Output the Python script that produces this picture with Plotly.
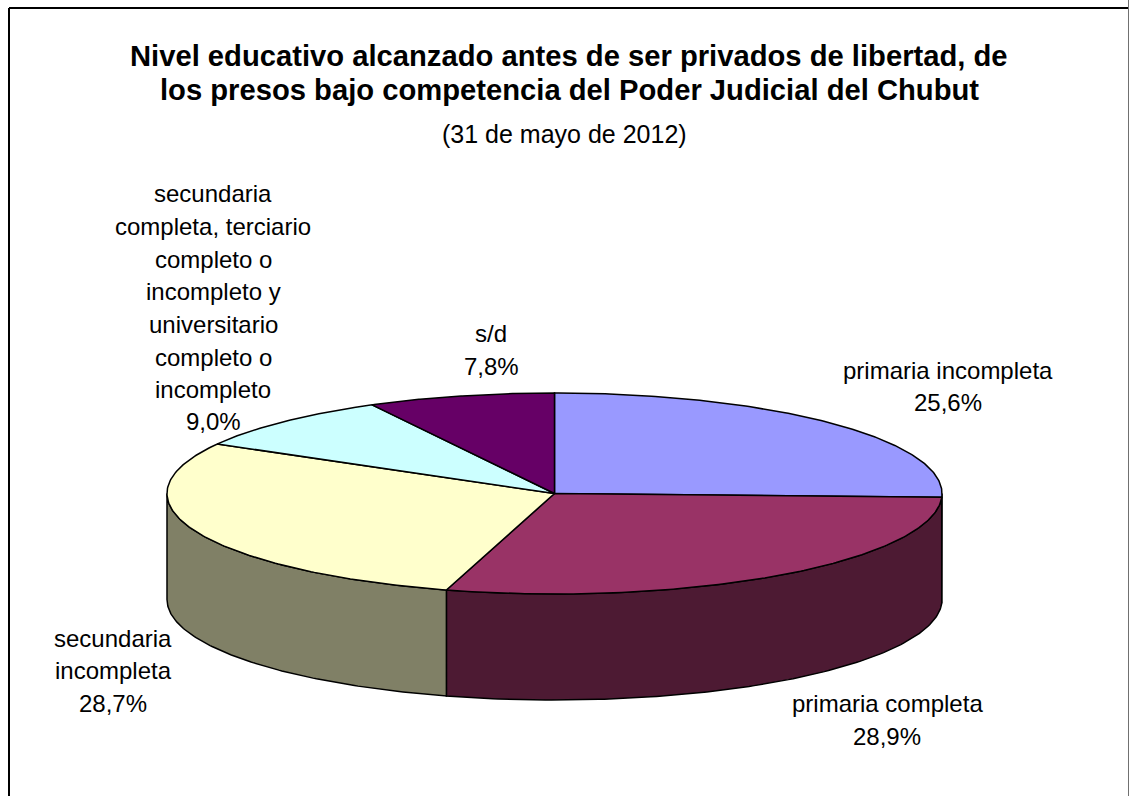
import numpy as np
import plotly.graph_objects as go

categories = ["primaria incompleta", "primaria completa", "secundaria incompleta",
              "secundaria completa, terciario completo o incompleto y universitario completo o incompleto", "s/d"]
values = [25.6, 28.9, 28.7, 9.0, 7.8]
top_colors = ["#9999FF", "#993366", "#FFFFCC", "#CCFFFF", "#660066"]
side_colors = ["#4D4D80", "#4D1A33", "#808066", "#668080", "#330033"]

title_lines = ["Nivel educativo alcanzado antes de ser privados de libertad, de",
               "los presos bajo competencia del Poder Judicial del Chubut"]
title_y = [56, 90]
subtitle = "(31 de mayo de 2012)"

label_lines = [
    ["primaria incompleta", "25,6%"],
    ["primaria completa", "28,9%"],
    ["secundaria", "incompleta", "28,7%"],
    ["secundaria", "completa, terciario", "completo o", "incompleto y", "universitario", "completo o", "incompleto", "9,0%"],
    ["s/d", "7,8%"],
]
label_x = [948, 887, 113, 213, 491]
label_y = [
    [370, 402],
    [703, 736],
    [638, 670, 703],
    [193, 226, 259, 291, 324, 357, 389, 421],
    [333, 366],
]

CX, CY, RX, RY, DEPTH = 554.5, 493.5, 387.5, 100.5, 106.0
W, H = 1129, 796
FRAME_L, FRAME_T = 9, 8
FONT = "Liberation Sans, Arial, sans-serif"
LINE = "#000000"


def point(frac):
    t = 2 * np.pi * frac
    return CX + RX * np.sin(t), CY - RY * np.cos(t)


fig = go.Figure()
fracs = np.cumsum([0] + values) / sum(values)

# Sides: only the part of each slice on the front half of the ellipse (t in 0.25..0.75)
for i in range(len(values)):
    lo, hi = max(fracs[i], 0.25), min(fracs[i + 1], 0.75)
    if lo >= hi:
        continue
    f = np.linspace(lo, hi, 120)
    x, y = point(f)
    xs = np.r_[x, x[::-1], x[0]]
    ys = np.r_[y, (y + DEPTH)[::-1], y[0]]
    fig.add_trace(go.Scatter(x=xs, y=ys, mode="lines", fill="toself", fillcolor=side_colors[i],
                             line=dict(color=LINE, width=1.5), hoverinfo="skip", showlegend=False))

# Top faces
for i in range(len(values)):
    f = np.linspace(fracs[i], fracs[i + 1], 160)
    x, y = point(f)
    xs = np.r_[CX, x, CX]
    ys = np.r_[CY, y, CY]
    fig.add_trace(go.Scatter(x=xs, y=ys, mode="lines", fill="toself", fillcolor=top_colors[i],
                             line=dict(color=LINE, width=1.5), name=categories[i], showlegend=False,
                             hovertemplate=categories[i] + ": %{text}<extra></extra>",
                             text=[f"{values[i]:.1f}%".replace(".", ",")] * len(xs)))

annotations = []
for line, ly in zip(title_lines, title_y):
    annotations.append(dict(x=569, y=ly, xref="x", yref="y", showarrow=False, text=f"<b>{line}</b>",
                            font=dict(family=FONT, size=29.2, color="#000000")))
annotations.append(dict(x=564, y=134, xref="x", yref="y", showarrow=False, text=subtitle,
                        font=dict(family=FONT, size=25, color="#000000")))
for lines, lx, ys in zip(label_lines, label_x, label_y):
    for line, ly in zip(lines, ys):
        annotations.append(dict(x=lx, y=ly, xref="x", yref="y", showarrow=False, text=line,
                                font=dict(family=FONT, size=24, color="#000000")))

shapes = [
    dict(type="line", xref="x", yref="y", x0=FRAME_L, y0=H, x1=FRAME_L, y1=FRAME_T, line=dict(color="#000000", width=2)),
    dict(type="line", xref="x", yref="y", x0=FRAME_L, y0=FRAME_T, x1=W - 1, y1=FRAME_T, line=dict(color="#000000", width=2)),
    dict(type="line", xref="x", yref="y", x0=W - 0.5, y0=0, x1=W - 0.5, y1=H, line=dict(color="#707070", width=1)),
]

fig.update_layout(
    width=W, height=H, autosize=False, margin=dict(l=0, r=0, t=0, b=0),
    paper_bgcolor="#FFFFFF", plot_bgcolor="#FFFFFF", showlegend=False,
    xaxis=dict(range=[0, W], visible=False, fixedrange=True),
    yaxis=dict(range=[H, 0], visible=False, fixedrange=True),
    annotations=annotations, shapes=shapes,
)
fig.write_html("out.html", config={"displayModeBar": False},
               post_script="document.body.style.margin='0';document.body.style.overflow='hidden';")
